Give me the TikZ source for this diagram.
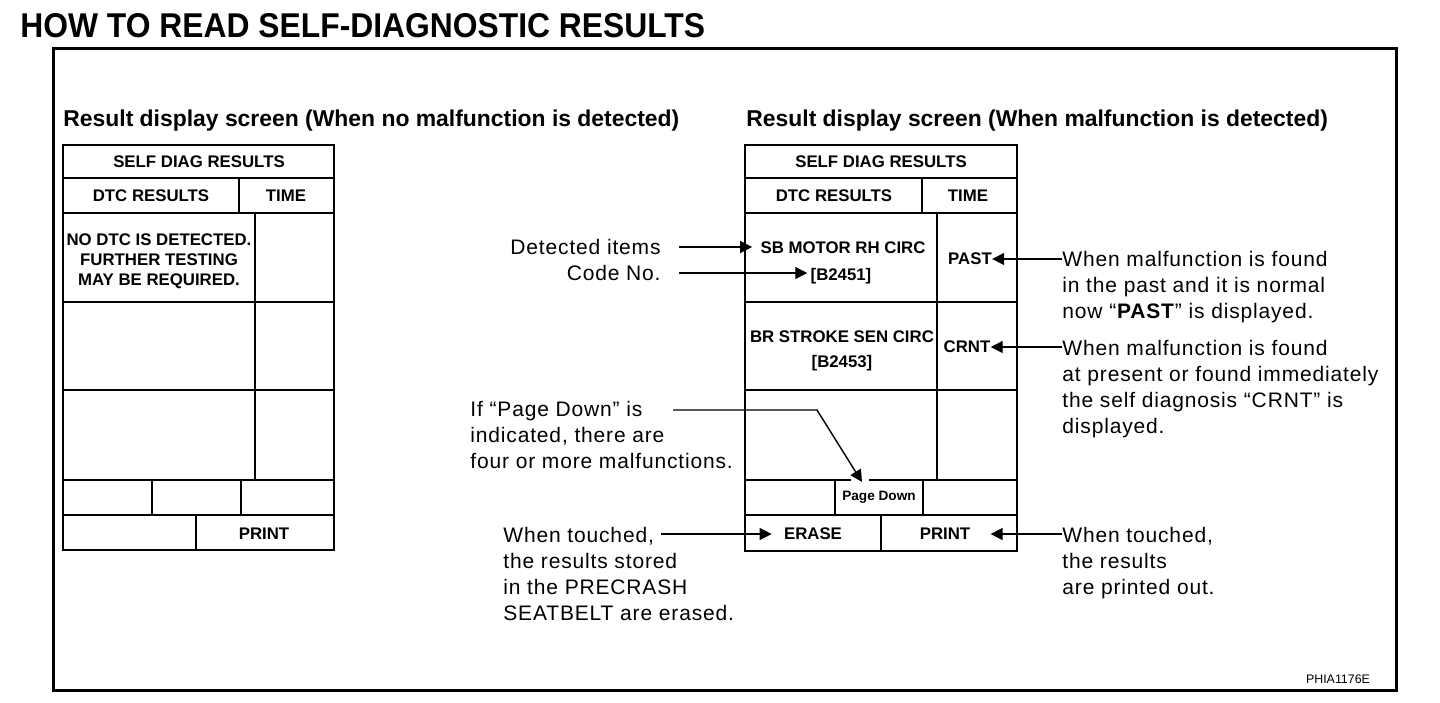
\documentclass[tikz,border=0pt]{standalone}
\usepackage{graphicx}
\usepackage{fontspec}
\setmainfont{Liberation Sans}
\newfontfamily\annfont[LetterSpace=4]{Liberation Sans}
\usetikzlibrary{arrows.meta}
\begin{document}
\begin{tikzpicture}[x=0.5pt,y=-0.5pt,
  frame/.style={line width=1.5pt},
  scr/.style={line width=1.3pt},
  cell/.style={line width=0.9pt},
  lead/.style={line width=0.7pt},
  arr/.style={lead,-{Triangle[length=6pt,width=6pt]}},
  st/.style={font=\fontsize{8.4}{9.9}\selectfont\bfseries,inner sep=0,align=center},
  head/.style={font=\fontsize{11.45}{13}\selectfont\bfseries,inner sep=0},
  ann/.style={font=\annfont\fontsize{10.5}{13}\selectfont,inner sep=0,align=left}]
\useasboundingbox (0,0) rectangle (1440,702);
\fill[white] (0,0) rectangle (1440,702);

% title
\node[anchor=base west,inner sep=0,font=\fontsize{17.2}{20}\selectfont\bfseries] (title) at (20,37)
  {\scalebox{0.925}[1]{HOW TO READ SELF-DIAGNOSTIC RESULTS}};
\draw[frame] (53,48) rectangle (1396,690);

\node[head,anchor=base west] (h1) at (63,126) {Result display screen (When no malfunction is detected)};
\node[head,anchor=base west] (h2) at (746,126) {Result display screen (When malfunction is detected)};

% left screen
\draw[cell] (63,178) -- (334,178) (63,213) -- (334,213) (239,178) -- (239,213)
  (255,213) -- (255,480) (63,302) -- (334,302) (63,390) -- (334,390)
  (63,480) -- (334,480) (63,515) -- (334,515) (152,480) -- (152,515)
  (241,480) -- (241,515) (196,515) -- (196,550);
\draw[scr] (63,145) rectangle (334,550);
\node[st] (lself) at (199,162) {SELF DIAG RESULTS};
\node[st] (ldtc) at (151,196) {DTC RESULTS};
\node[st] (ltime) at (286,196) {TIME};
\node[st] (lnodtc) at (159,261) {NO DTC IS DETECTED.\\FURTHER TESTING\\MAY BE REQUIRED.};
\node[st] (lprint) at (264,534) {PRINT};

% right screen
\draw[cell] (745,178) -- (1017,178) (745,213) -- (1017,213) (922,178) -- (922,213)
  (937,213) -- (937,480) (745,302) -- (1017,302) (745,390) -- (1017,390)
  (745,480) -- (1017,480) (745,515) -- (1017,515) (835,480) -- (835,515)
  (923,480) -- (923,515) (881,515) -- (881,551);
\draw[scr] (745,145) rectangle (1017,551);
\node[st] (rself) at (881,162) {SELF DIAG RESULTS};
\node[st] (rdtc) at (834,196) {DTC RESULTS};
\node[st] (rtime) at (968,196) {TIME};
\node[st] (sbm) at (843,248) {SB MOTOR RH CIRC};
\node[st] (code) at (841,276) {[B2451]};
\node[st,font=\fontsize{8.4}{12.7}\selectfont\bfseries] (br) at (842,351) {BR STROKE SEN CIRC\\{[B2453]}};
\node[st] (past) at (970,259) {PAST};
\node[st] (crnt) at (967,347) {CRNT};
\node[st,font=\fontsize{6.8}{8}\selectfont\bfseries] (pd) at (879,497) {Page Down};
\node[st] (erase) at (813,534) {ERASE};
\node[st] (print) at (945,534) {PRINT};

% annotations
\node[ann,anchor=east] (det) at (661,247) {Detected items};
\node[ann,anchor=east] (codeno) at (661,273) {Code No.};
\node[ann,anchor=north west] (pgnote) at (470,401) {If “Page Down” is\\indicated, there are\\four or more malfunctions.};
\node[ann,anchor=north west] (ernote) at (503,526.5) {When touched,\\the results stored\\in the PRECRASH\\SEATBELT are erased.};
\node[ann,anchor=north west] (pastnote) at (1062,251) {When malfunction is found\\in the past and it is normal\\now “\textbf{PAST}” is displayed.};
\node[ann,anchor=north west] (crntnote) at (1062,339.5) {When malfunction is found\\at present or found immediately\\the self diagnosis “CRNT” is\\displayed.};
\node[ann,anchor=north west] (prnote) at (1062,527) {When touched,\\the results\\are printed out.};
\node[inner sep=0,font=\fontsize{6.2}{7}\selectfont] (phia) at (1338,679) {PHIA1176E};

% connectors
\draw[arr,shorten <=9pt,shorten >=4pt] (det.east) -- (sbm.west |- det.east);
\draw[arr,shorten <=9pt,shorten >=1.5pt] (codeno.east) -- (codeno.east -| code.west);
\draw[arr] (pastnote.west |- past.east) -- (past.east);
\draw[arr] (crntnote.west |- crnt.east) -- (crnt.east);
\coordinate (pgstart) at (673,410);
\coordinate (pgbend) at (817,410);
\coordinate (pgtip) at (862,482);
\fill[white] (851,477) rectangle (869,483.5);
\draw[arr] (pgstart) -- (pgbend) -- (pgtip);
\coordinate (erstart) at (661,534);
\draw[arr,shorten >=6pt] (erstart) -- (erase.west);
\draw[arr,shorten >=10pt] (prnote.west |- print.east) -- (print.east);
\end{tikzpicture}
\end{document}
